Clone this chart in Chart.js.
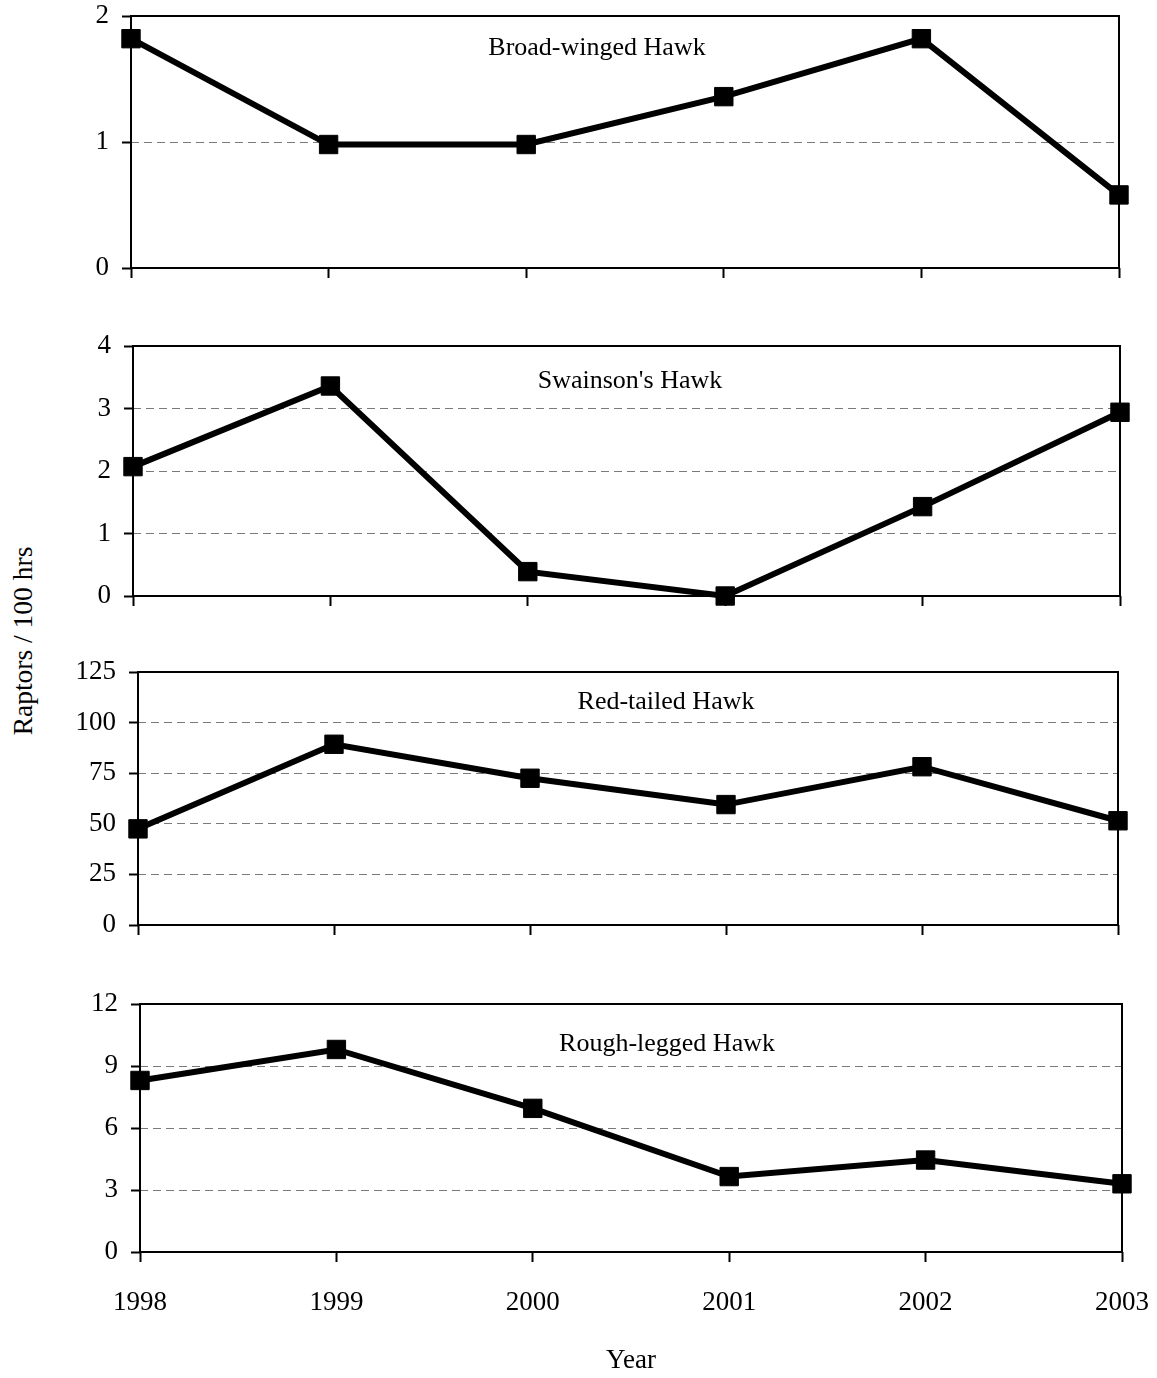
<!DOCTYPE html>
<html>
<head>
<meta charset="utf-8">
<script src="https://cdn.jsdelivr.net/npm/chart.js@4"></script>
<style>
  html, body { margin: 0; padding: 0; background: #fff; }
  body { width: 1157px; height: 1378px; position: relative; overflow: hidden; }
  .panel { position: absolute; left: 0; width: 1157px; }
  #ylabel {
    position: absolute; width: 300px; height: 30px; line-height: 30px;
    left: -127px; top: 626px; text-align: center;
    font-family: 'Liberation Serif', 'Times New Roman', serif; font-size: 27.5px; color: #000;
    transform: rotate(-90deg);
  }
</style>
</head>
<body>
<div id="ylabel">Raptors / 100 hrs</div>
<div class="panel" id="p0"><canvas id="c0"></canvas></div>
<div class="panel" id="p1"><canvas id="c1"></canvas></div>
<div class="panel" id="p2"><canvas id="c2"></canvas></div>
<div class="panel" id="p3"><canvas id="c3"></canvas></div>
<script>
// --- dados ---
const years = ['1998', '1999', '2000', '2001', '2002', '2003'];
const speciesNames = ['Broad-winged Hawk', "Swainson's Hawk", 'Red-tailed Hawk', 'Rough-legged Hawk'];
const broadWinged = [1.82, 0.98, 0.98, 1.36, 1.82, 0.58];
const swainsons = [2.07, 3.36, 0.39, 0.0, 1.43, 2.94];
const redTailed = [47.5, 89.3, 72.5, 59.5, 78.2, 51.5];
const roughLegged = [8.3, 9.8, 6.95, 3.65, 4.45, 3.3];
const yMax = [2, 4, 125, 12];
const yStep = [1, 1, 25, 3];
const series = [broadWinged, swainsons, redTailed, roughLegged];

// --- layout (page px): plot area and label position for each panel ---
const boxes = [
  { L: 131, R: 1119, T: 16, B: 268, padTop: 16, axisH: 14, tx: 597, ty: 55 },
  { L: 133, R: 1120, T: 346, B: 596, padTop: 20, axisH: 14, tx: 630, ty: 388 },
  { L: 138, R: 1118, T: 672, B: 925, padTop: 20, axisH: 14, tx: 666, ty: 709 },
  { L: 140, R: 1122, T: 1004, B: 1252, padTop: 20, axisH: 125, tx: 667, ty: 1051 }
];

const FONT = "'Liberation Serif', 'Times New Roman', serif";
Chart.defaults.font.family = FONT;
Chart.defaults.font.size = 27;
Chart.defaults.color = '#000';

// moldura preta em volta da área do gráfico
const framePlugin = {
  id: 'frame',
  beforeDatasetsDraw(chart) {
    const { ctx, chartArea: a } = chart;
    ctx.save();
    ctx.strokeStyle = '#000';
    ctx.lineWidth = 2;
    ctx.strokeRect(a.left, a.top, a.right - a.left, a.bottom - a.top);
    ctx.restore();
  }
};

// nome da espécie dentro do painel
const labelPlugin = {
  id: 'speciesLabel',
  afterDatasetsDraw(chart, args, opts) {
    const { ctx } = chart;
    ctx.save();
    ctx.font = `26px ${FONT}`;
    ctx.fillStyle = '#000';
    ctx.textAlign = 'center';
    ctx.textBaseline = 'alphabetic';
    ctx.fillText(opts.text, opts.x, opts.y);
    ctx.restore();
  }
};

boxes.forEach((b, i) => {
  const last = i === boxes.length - 1;
  const top = b.T - b.padTop;
  const height = b.padTop + (b.B - b.T) + b.axisH;
  const wrap = document.getElementById('p' + i);
  wrap.style.top = top + 'px';
  wrap.style.height = height + 'px';

  new Chart(document.getElementById('c' + i), {
    type: 'line',
    data: {
      labels: years,
      datasets: [{
        data: series[i],
        borderColor: '#000',
        borderWidth: 6,
        tension: 0,
        clip: false,
        pointStyle: 'rect',
        pointRadius: 13,
        pointBackgroundColor: '#000',
        pointBorderColor: '#000',
        pointBorderWidth: 1
      }]
    },
    options: {
      responsive: true,
      maintainAspectRatio: false,
      animation: false,
      events: [],
      layout: { padding: { top: b.padTop, left: 0, right: 1157 - b.R, bottom: 0 } },
      plugins: {
        legend: { display: false },
        tooltip: { enabled: false },
        speciesLabel: { text: speciesNames[i], x: b.tx, y: b.ty - top }
      },
      scales: {
        x: {
          type: 'category',
          offset: false,
          grid: { drawOnChartArea: false, drawTicks: true, tickLength: 10, tickColor: '#000', tickWidth: 2 },
          border: { display: false },
          ticks: { display: last, padding: 25, maxRotation: 0, autoSkip: false },
          title: { display: last, text: 'Year', padding: { top: 0, bottom: 0 } },
          afterFit(s) {
            s.height = b.axisH;
            s.paddingLeft = 0; s.paddingRight = 0;
          }
        },
        y: {
          min: 0,
          max: yMax[i],
          grid: {
            color: (c) => (c.tick && (c.tick.value === 0 || c.tick.value === yMax[i])) ? 'rgba(0,0,0,0)' : '#7a7a7a',
            lineWidth: 1,
            tickLength: 9,
            tickColor: '#000',
            tickWidth: 2
          },
          border: { display: false, dash: [8, 5] },
          ticks: { stepSize: yStep[i], padding: 13 },
          afterFit(s) {
            s.width = b.L;
            s.paddingTop = 0; s.paddingBottom = 0;
          }
        }
      }
    },
    plugins: [framePlugin, labelPlugin]
  });
});
</script>
</body>
</html>
